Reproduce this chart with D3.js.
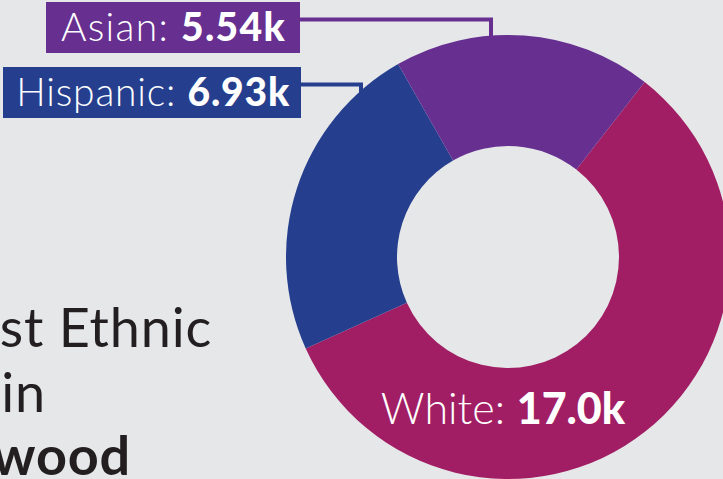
<!DOCTYPE html>
<html>
<head>
<meta charset="utf-8">
<script src="https://cdn.jsdelivr.net/npm/d3@7/dist/d3.min.js"></script>
<style>
  html, body { margin: 0; padding: 0; background: #e6e7e9; overflow: hidden; }
  svg { display: block; font-family: "Lato", "Open Sans", sans-serif; }
</style>
</head>
<body>
<svg id="chart" width="723" height="479"></svg>
<script>
// data
const groups = ["White", "Hispanic", "Asian"];
const values = [17000, 6930, 5540];
const valueLabels = ["17.0k", "6.93k", "5.54k"];
const colors = ["#a11e64", "#253f8e", "#662f90"];
const titleLines = ["Largest Ethnic", "Groups in", "Lakewood"];

const svg = d3.select("#chart");
const W = 723, H = 479;
const cx = 508, cy = 257, R = 222, r = 111;

svg.append("rect").attr("width", W).attr("height", H).attr("fill", "#e6e7e9");

const slices = groups.map((g, i) => ({ name: g, value: values[i], label: valueLabels[i], color: colors[i] }));

const pie = d3.pie()
  .sort(null)
  .value(d => d.value)
  .startAngle(38 * Math.PI / 180)
  .endAngle(38 * Math.PI / 180 + 2 * Math.PI);

const arc = d3.arc().innerRadius(r).outerRadius(R);
const arcs = pie(slices);

const g = svg.append("g").attr("transform", `translate(${cx},${cy})`);
g.selectAll("path")
  .data(arcs)
  .enter().append("path")
  .attr("d", arc)
  .attr("fill", d => d.data.color);

// title (left side, cropped by the frame like the source)
const titleEnds = [212, 46, 131];
const titleBase = [347, 412, 475];
svg.selectAll("text.title")
  .data(titleLines)
  .enter().append("text")
  .attr("class", "title")
  .attr("x", (d, i) => titleEnds[i])
  .attr("y", (d, i) => titleBase[i])
  .attr("text-anchor", "end")
  .attr("font-size", 54)
  .attr("letter-spacing", 0.8)
  .attr("font-weight", (d, i) => i === 2 ? 700 : 400)
  .attr("fill", "#231f20")
  .text(d => d);

// big slice: label inside
const white = arcs[0];
const wl = svg.append("text")
  .attr("x", cx - 5)
  .attr("y", 424)
  .attr("text-anchor", "middle")
  .attr("font-size", 43)
  .attr("fill", "#fff");
wl.append("tspan").attr("font-weight", 300).text(white.data.name + ": ");
wl.append("tspan").attr("font-weight", 900).text(white.data.label);

// small slices: boxed labels with elbow connectors
const callouts = [
  { idx: 2, left: 46, top: 2, h: 51, right: 300, pad: 14, ls: 1.3, anchorX: 491 },
  { idx: 1, left: 3, top: 67, h: 51, right: 301, pad: 11, ls: 0.8, anchorX: 361 }
];

callouts.forEach(c => {
  const d = arcs[c.idx];
  const grp = svg.append("g");
  grp.append("rect")
    .attr("x", c.left)
    .attr("y", c.top)
    .attr("width", c.right - c.left)
    .attr("height", c.h)
    .attr("fill", d.data.color);
  const t = grp.append("text")
    .attr("x", c.right - c.pad)
    .attr("y", c.top + 38.5)
    .attr("text-anchor", "end")
    .attr("font-size", 39)
    .attr("letter-spacing", c.ls)
    .attr("fill", "#fff");
  t.append("tspan").attr("font-weight", 300).text(d.data.name + ": ");
  t.append("tspan").attr("font-weight", 900).text(d.data.label);

  const ly = c.top + 17.5;
  const ay = cy - Math.sqrt(R * R - (c.anchorX - cx) * (c.anchorX - cx));
  svg.append("path")
    .attr("d", `M${c.right},${ly}H${c.anchorX}V${ay + 2}`)
    .attr("fill", "none")
    .attr("stroke", d.data.color)
    .attr("stroke-width", 4);
});
</script>
</body>
</html>
